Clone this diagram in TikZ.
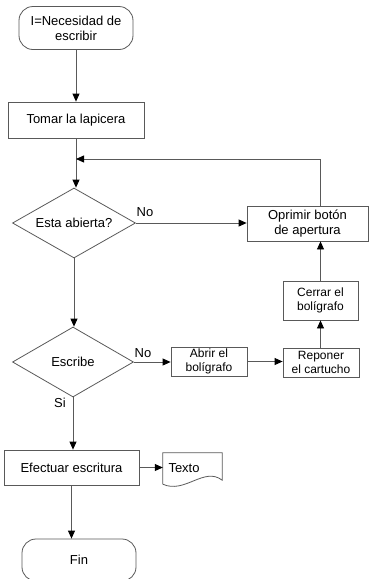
\documentclass[tikz,border=0pt]{standalone}
\usepackage{fontspec}
\setmainfont{Liberation Sans}
\usetikzlibrary{arrows.meta}
\usetikzlibrary{shapes.geometric}

\begin{document}
\begin{tikzpicture}[x=1pt,y=-1pt,font=\fontsize{13}{15}\selectfont,
    linea/.style={draw=black!65,line width=0.8pt},
    flecha/.style={linea,-{Triangle[length=8pt,width=7pt,color=black]}},
    terminal/.style={linea,rounded corners=14pt,align=center,minimum width=114pt},
    caja/.style={linea,align=center,inner sep=2pt},
    chica/.style={caja,font=\fontsize{12}{14}\selectfont},
    decision/.style={linea,diamond,aspect=1.75,inner sep=0pt},
    documento/.style={inner sep=0pt,minimum width=59pt,minimum height=31pt,text width=48pt,align=left},
    etiqueta/.style={inner sep=0pt}]
    \useasboundingbox (0,0) rectangle (376,579);
    % nodos
    \node[terminal,minimum height=43pt] (inicio) at (76,28) {I=Necesidad de\\escribir};
    \node[caja,minimum width=136pt,minimum height=36pt] (tomar) at (76,120) {Tomar la lapicera};
    \node[decision,minimum width=123pt,minimum height=70pt] (abierta) at (74,223) {Esta abierta?};
    \node[caja,minimum width=121pt,minimum height=35pt] (oprimir) at (307.5,223.5) {Oprimir botón\\de apertura};
    \node[chica,minimum width=75pt,minimum height=39pt] (cerrar) at (320.5,300.5) {Cerrar el\\bolígrafo};
    \node[decision,minimum width=121pt,minimum height=70pt] (escribe) at (73,362) {Escribe};
    \node[chica,minimum width=76pt,minimum height=29pt] (abrir) at (209,361.5) {Abrir el\\bolígrafo};
    \node[chica,minimum width=76pt,minimum height=29pt] (reponer) at (321,362.5) {Reponer\\el cartucho};
    \node[caja,minimum width=135pt,minimum height=35pt] (efectuar) at (71.5,467.5) {Efectuar escritura};
    \node[documento] (texto) at (192.5,468.5) {Texto};
    \node[terminal,minimum height=42pt] (fin) at (79,560) {Fin};
    \draw[linea] (texto.south west) -- (texto.north west) -- (texto.north east) -- ([yshift=4pt]texto.south east)
        .. controls +(-18,-14) and +(22,10) .. (texto.south west);
    % etiquetas
    \node[etiqueta] (no1) at (145,212) {No};
    \node[etiqueta] (no2) at (143,353) {No};
    \node[etiqueta] (si) at (60,403) {Si};
    % conectores
    \coordinate (retorno) at (76,159);
    \draw[flecha] (inicio) -- (tomar);
    \draw[flecha] (tomar.south) -- (tomar.south |- abierta.north);
    \draw[flecha] (oprimir.north -| cerrar) |- (retorno);
    \draw[flecha] (abierta.east) -- (abierta.east -| oprimir.west);
    \draw[flecha] (abierta.south) -- (abierta.south |- escribe.north);
    \draw[flecha] (escribe.east) -- (escribe.east -| abrir.west);
    \draw[flecha] (abrir.east) -- (abrir.east -| reponer.west);
    \draw[flecha] (reponer.north -| cerrar.south) -- (cerrar.south);
    \draw[flecha] (cerrar.north) -- (cerrar.north |- oprimir.south);
    \draw[flecha] (escribe.south) -- (escribe.south |- efectuar.north);
    \draw[flecha] (efectuar.east) -- (efectuar.east -| texto.west);
    \draw[flecha] (efectuar.south) -- (efectuar.south |- fin.north);
\end{tikzpicture}
\end{document}
